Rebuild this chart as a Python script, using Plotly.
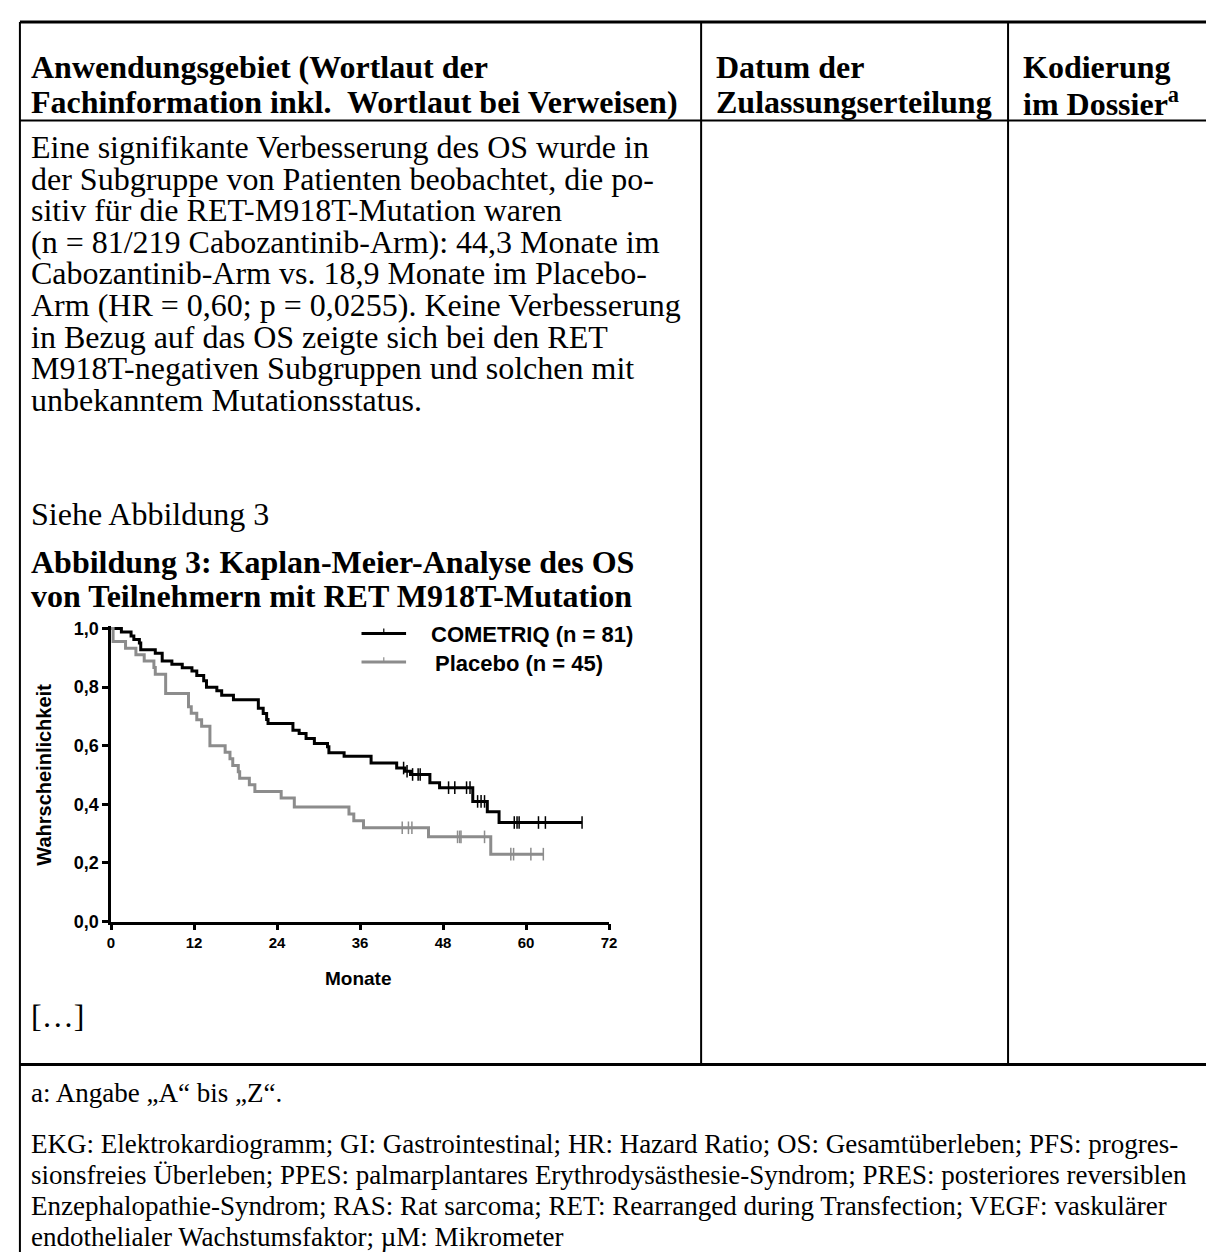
import plotly.graph_objects as go

W, H = 1214, 1254

# ---------------- data ----------------
cometriq_t = [0, 1.5, 2.9, 3.3, 4.1, 4.3, 6.4, 7.4, 8.8, 10.3, 11.7, 12.4, 13.4, 13.8, 15.3,
              16.0, 17.7, 21.3, 22.0, 22.5, 22.7, 26.3, 27.2, 28.2, 29.4, 31.3, 31.5, 33.7,
              37.6, 41.3, 42.5, 43.3, 46.1, 47.5, 52.3, 54.4, 56.1, 68.1]
cometriq_s = [1.0, 0.988, 0.975, 0.963, 0.951, 0.928, 0.916, 0.889, 0.878, 0.866, 0.855, 0.840,
              0.822, 0.800, 0.788, 0.772, 0.757, 0.728, 0.710, 0.690, 0.676, 0.653, 0.642, 0.625,
              0.608, 0.597, 0.576, 0.564, 0.541, 0.524, 0.513, 0.502, 0.474, 0.457, 0.410, 0.375,
              0.338, 0.338]
cometriq_censor_t = [42.3, 42.8, 43.6, 44.4, 44.7, 48.8, 49.7, 51.4, 51.9, 53.0, 53.5, 54.0,
                     58.3, 58.7, 59.0, 61.8, 62.8, 68.1]

placebo_t = [0, 0.3, 2.1, 3.6, 4.8, 6.2, 6.4, 7.9, 11.2, 11.6, 12.4, 13.1, 14.3, 16.5, 17.2,
             17.6, 18.4, 18.6, 20.0, 20.8, 24.6, 26.5, 34.4, 35.1, 36.5, 45.9, 54.9, 62.5]
placebo_s = [1.0, 0.956, 0.933, 0.911, 0.889, 0.867, 0.844, 0.778, 0.733, 0.711, 0.689, 0.667,
             0.600, 0.578, 0.556, 0.533, 0.511, 0.489, 0.467, 0.444, 0.422, 0.391, 0.367, 0.344,
             0.320, 0.289, 0.230, 0.230]
placebo_censor_t = [42.1, 43.0, 43.5, 50.1, 50.4, 50.6, 54.0, 57.8, 58.2, 60.7, 62.5]

series_names = ["COMETRIQ (n = 81)", "Placebo (n = 45)"]
series_colors = ["#000000", "#8c8c8c"]

y_tick_vals = [0.0, 0.2, 0.4, 0.6, 0.8, 1.0]
y_tick_text = ["0,0", "0,2", "0,4", "0,6", "0,8", "1,0"]
x_tick_vals = [0, 12, 24, 36, 48, 60, 72]
x_tick_text = ["0", "12", "24", "36", "48", "60", "72"]
x_title = "Monate"
y_title = "Wahrscheinlichkeit"

header_col1 = ["Anwendungsgebiet (Wortlaut der", "Fachinformation inkl.  Wortlaut bei Verweisen)"]
header_col2 = ["Datum der", "Zulassungserteilung"]
header_col3 = ["Kodierung", "im Dossier<sup>a</sup>"]
body_lines = [
    "Eine signifikante Verbesserung des OS wurde in",
    "der Subgruppe von Patienten beobachtet, die po-",
    "sitiv für die RET-M918T-Mutation waren",
    "(n = 81/219 Cabozantinib-Arm): 44,3 Monate im",
    "Cabozantinib-Arm vs. 18,9 Monate im Placebo-",
    "Arm (HR = 0,60; p = 0,0255). Keine Verbesserung",
    "in Bezug auf das OS zeigte sich bei den RET",
    "M918T-negativen Subgruppen und solchen mit",
    "unbekanntem Mutationsstatus.",
]
see_line = "Siehe Abbildung 3"
fig_caption = ["Abbildung 3: Kaplan-Meier-Analyse des OS", "von Teilnehmern mit RET M918T-Mutation"]
ellipsis_line = "[…]"
footnote_a = "a: Angabe „A“ bis „Z“."
footnote_lines = [
    "EKG: Elektrokardiogramm; GI: Gastrointestinal; HR: Hazard Ratio; OS: Gesamtüberleben; PFS: progres-",
    "sionsfreies Überleben; PPES: palmarplantares Erythrodysästhesie-Syndrom; PRES: posteriores reversiblen",
    "Enzephalopathie-Syndrom; RAS: Rat sarcoma; RET: Rearranged during Transfection; VEGF: vaskulärer",
    "endothelialer Wachstumsfaktor; µM: Mikrometer",
]

# ---------------- helpers ----------------
def px(x):
    return x / W

def py(y):
    return 1 - y / H

def surv_at(ts, ss, t):
    v = ss[0]
    for ti, si in zip(ts, ss):
        if ti <= t:
            v = si
    return v

SERIF = "Liberation Serif, Times New Roman, serif"
SANS = "Liberation Sans, Arial, sans-serif"

fig = go.Figure()

for name, color, ts, ss, ct in [
    (series_names[0], series_colors[0], cometriq_t, cometriq_s, cometriq_censor_t),
    (series_names[1], series_colors[1], placebo_t, placebo_s, placebo_censor_t),
]:
    fig.add_trace(go.Scatter(x=ts, y=ss, mode="lines", line=dict(color=color, width=3, shape="hv"),
                             name=name, showlegend=False, hoverinfo="skip"))
    fig.add_trace(go.Scatter(x=ct, y=[surv_at(ts, ss, t) for t in ct], mode="markers",
                             marker=dict(symbol="line-ns", size=9, line=dict(color=color, width=1.5)),
                             showlegend=False, hoverinfo="skip", cliponaxis=False))

# axes of the KM plot
x0, x1 = 100, 603
y_top_1, y_zero = 622, 919
ppu = y_zero - y_top_1
y_range_top = 1.01
fig.update_layout(
    width=W, height=H,
    margin=dict(l=0, r=0, t=0, b=0),
    paper_bgcolor="white", plot_bgcolor="white",
    showlegend=False,
    xaxis=dict(domain=[px(x0), px(x1)], range=[0, 72], showline=True, linewidth=2.5,
               linecolor="black", ticks="outside", ticklen=6, tickwidth=2.5, tickcolor="black",
               tickvals=x_tick_vals, ticktext=x_tick_text, showgrid=False, zeroline=False,
               tickfont=dict(family=SANS, size=15, color="black", weight="bold")),
    yaxis=dict(domain=[py(y_zero), py(y_zero - y_range_top * ppu)], range=[0, y_range_top],
               showline=True, linewidth=2.5, linecolor="black", ticks="outside", ticklen=6,
               tickwidth=2.5, tickcolor="black", tickvals=y_tick_vals, ticktext=y_tick_text,
               showgrid=False, zeroline=False,
               tickfont=dict(family=SANS, size=18, color="black", weight="bold")),
)

shapes = []
ann = []

def hline(y, xa, xb, w):
    shapes.append(dict(type="line", xref="paper", yref="paper", x0=px(xa), x1=px(xb),
                       y0=py(y), y1=py(y), line=dict(color="black", width=w)))

def vline(x, ya, yb, w):
    shapes.append(dict(type="line", xref="paper", yref="paper", x0=px(x), x1=px(x),
                       y0=py(ya), y1=py(yb), line=dict(color="black", width=w)))

def text(x, y, s, size, family=SERIF, bold=False, xanchor="left", angle=0, color="black"):
    ann.append(dict(xref="paper", yref="paper", x=px(x), y=py(y), text=s, showarrow=False,
                    xanchor=xanchor, yanchor="middle", textangle=angle, borderpad=0,
                    font=dict(family=family, size=size, color=color,
                              weight="bold" if bold else "normal")))

# table grid
L, R = 8, 1210
C1, C2 = 696, 1006
TOP, HDR, ROW = 7, 107, 1064
hline(TOP, L, R, 3)
hline(HDR, L, R, 2)
hline(ROW, L, R, 3)
vline(L, TOP, H, 2)
vline(R, TOP, H, 2)
vline(C1, TOP, ROW, 2)
vline(C2, TOP, ROW, 2)

# header
hy = [53, 88]
for i in range(2):
    text(18, hy[i], header_col1[i], 32, bold=True)
    text(C1 + 14, hy[i], header_col2[i], 32, bold=True)
    text(C2 + 14, hy[i], header_col3[i], 32, bold=True)

# body
for i, s in enumerate(body_lines):
    text(18, 134 + 32 * i, s, 32)
text(18, 506, see_line, 32)
text(18, 555, fig_caption[0], 32, bold=True)
text(18, 589, fig_caption[1], 32, bold=True)
text(18, 1015, ellipsis_line, 32)

# footnotes
text(18, 1093, footnote_a, 27)
for i, s in enumerate(footnote_lines):
    text(18, 1145 + 31.4 * i, s, 27)

# chart labels
text((x0 + x1) / 2 - 2, 977, x_title, 19, family=SANS, bold=True, xanchor="center")
text(32, (y_top_1 + y_zero) / 2, y_title, 20, family=SANS, bold=True, xanchor="center", angle=-90)

# legend (drawn manually)
leg_y = [627, 656]
leg_tx = [422, 426]
for i in range(2):
    shapes.append(dict(type="line", xref="paper", yref="paper", x0=px(353), x1=px(398),
                       y0=py(leg_y[i]), y1=py(leg_y[i]), line=dict(color=series_colors[i], width=3)))
    shapes.append(dict(type="line", xref="paper", yref="paper", x0=px(375.5), x1=px(375.5),
                       y0=py(leg_y[i]), y1=py(leg_y[i] - 5), line=dict(color=series_colors[i], width=1.2)))
    text(leg_tx[i], leg_y[i] + 1, series_names[i], 22, family=SANS, bold=True)

fig.update_layout(shapes=shapes, annotations=ann)
fig.write_html("out.html")
